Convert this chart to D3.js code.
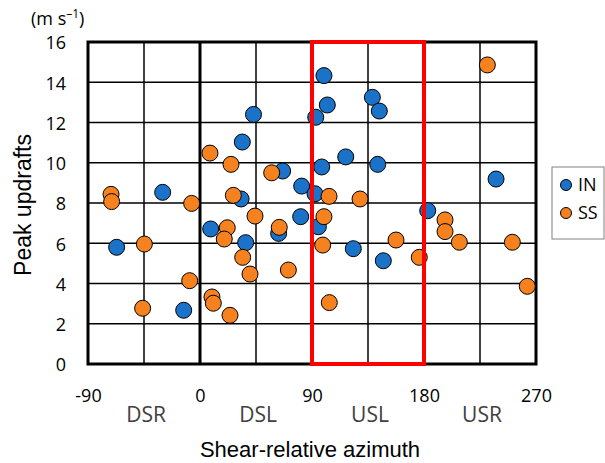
<!DOCTYPE html>
<html>
<head>
<meta charset="utf-8">
<script src="https://cdn.jsdelivr.net/npm/d3@7"></script>
<style>
  body { margin: 0; background: #fff; }
  svg { display: block; }
  .tick text { font-family: "Open Sans", sans-serif; font-size: 18px; fill: #000; }
</style>
</head>
<body>
<svg width="605" height="463"></svg>
<script>
    // shear-relative azimuth (deg) and peak updraft (m/s)
    var inAzimuth = [43, 34, 66.4, 81.7, -30, 33, 99.6, 102.3, 93, 138.5, 144.1, 117.1, 97.8, 142.8,
        92.4, 237.9, 183, 8.6, 36.7, 63.2, 80.9, 95.1, -67, -13.1, 123.2, 147.3];
    var inUpdraft = [12.4, 11.03, 9.59, 8.84, 8.53, 8.2, 14.33, 12.87, 12.26, 13.25, 12.57, 10.29, 9.79, 9.92,
        8.46, 9.19, 7.62, 6.71, 6.03, 6.49, 7.32, 6.82, 5.8, 2.67, 5.73, 5.13];

    var ssAzimuth = [8, 24.9, 57.6, -71.5, -71, -6.7, 26.8, 103.7, 128.6, 230.9, 44.2, 21.9, 19.5, 34.3,
        40.2, 63.7, 71, -44.7, -8.3, -46.1, 9.6, 10.7, 24.1, 99.6, 98.6, 157.5, 176.2, 196.9, 196.9,
        208.4, 251, 263, 103.9];
    var ssUpdraft = [10.48, 9.92, 9.5, 8.43, 8.07, 7.98, 8.38, 8.33, 8.2, 14.86, 7.35, 6.77, 6.21, 5.3,
        4.47, 6.79, 4.67, 5.96, 4.14, 2.77, 3.33, 3.02, 2.42, 7.32, 5.91, 6.16, 5.3, 7.16, 6.58,
        6.05, 6.05, 3.86, 3.05];

    var xTicks = [-90, 0, 90, 180, 270];
    var xGrid = [-45, 45, 135, 225];
    var yTicks = [0, 2, 4, 6, 8, 10, 12, 14, 16];
    var sectors = ["DSR", "DSL", "USL", "USR"];
    var sectorPos = [-45, 45, 135, 225];
    var box = [90, 180];

    var series = [
        { name: "IN", color: "#1b72c9", xs: inAzimuth, ys: inUpdraft },
        { name: "SS", color: "#f5821f", xs: ssAzimuth, ys: ssUpdraft }
    ];

    var svg = d3.select("svg"),
        plotL = 88, plotR = 536, plotT = 42, plotB = 364;

    var x = d3.scaleLinear().domain([-90, 270]).range([plotL, plotR]);
    var y = d3.scaleLinear().domain([0, 16]).range([plotB, plotT]);

    // grid
    var grid = svg.append("g").attr("stroke", "#000").attr("stroke-width", 1.5);
    grid.selectAll("line.h")
        .data(yTicks.slice(1, -1)).enter()
        .append("line")
            .attr("x1", plotL).attr("x2", plotR)
            .attr("y1", (d) => y(d)).attr("y2", (d) => y(d));
    grid.selectAll("line.v")
        .data(xGrid.concat([90, 180])).enter()
        .append("line")
            .attr("y1", plotT).attr("y2", plotB)
            .attr("x1", (d) => x(d)).attr("x2", (d) => x(d));

    // zero line
    svg.append("line")
        .attr("x1", x(0)).attr("x2", x(0))
        .attr("y1", plotT).attr("y2", plotB)
        .attr("stroke", "#000").attr("stroke-width", 3);

    // frame
    svg.append("rect")
        .attr("x", plotL).attr("y", plotT)
        .attr("width", plotR - plotL).attr("height", plotB - plotT)
        .attr("fill", "none").attr("stroke", "#000").attr("stroke-width", 3);

    // axes (labels only)
    var yAxis = svg.append("g")
        .attr("transform", "translate(" + (plotL - 22) + ",1)")
        .call(d3.axisLeft(y).tickValues(yTicks).tickSize(0).tickPadding(0));
    yAxis.select(".domain").remove();

    var xAxis = svg.append("g")
        .attr("transform", "translate(0," + (plotB + 25) + ")")
        .call(d3.axisBottom(x).tickValues(xTicks).tickFormat((d) => String(d)).tickSize(0).tickPadding(0));
    xAxis.select(".domain").remove();

    svg.append("g").selectAll("text")
        .data(sectors).enter()
        .append("text")
            .attr("x", (d, i) => x(sectorPos[i]) + 2)
            .attr("y", 422)
            .attr("text-anchor", "middle")
            .attr("font-family", "Open Sans, sans-serif")
            .attr("font-size", 21)
            .attr("fill", "#404040")
            .text((d) => d);

    // points
    series.forEach(function (s) {
        svg.append("g").selectAll("circle")
            .data(s.xs).enter()
            .append("circle")
                .attr("cx", (d) => x(d))
                .attr("cy", (d, i) => y(s.ys[i]))
                .attr("r", 8)
                .attr("fill", s.color)
                .attr("stroke", "#000")
                .attr("stroke-width", 1);
    });

    // highlighted upshear-left sector
    svg.append("rect")
        .attr("x", x(box[0])).attr("y", plotT)
        .attr("width", x(box[1]) - x(box[0])).attr("height", plotB - plotT)
        .attr("fill", "none").attr("stroke", "#ff0000").attr("stroke-width", 4);

    // titles
    svg.append("text")
        .attr("x", 310).attr("y", 457)
        .attr("text-anchor", "middle")
        .attr("font-family", "Liberation Sans, Arial, sans-serif")
        .attr("font-size", 22)
        .text("Shear-relative azimuth");

    svg.append("text")
        .attr("transform", "translate(31,205) rotate(-90)")
        .attr("text-anchor", "middle")
        .attr("font-family", "Liberation Sans, Arial, sans-serif")
        .attr("font-size", 23)
        .text("Peak updrafts");

    var unit = svg.append("text")
        .attr("x", 31).attr("y", 25)
        .attr("font-family", "Open Sans, sans-serif")
        .attr("font-size", 18);
    unit.append("tspan").text("(m s");
    unit.append("tspan").attr("dy", -7).attr("font-size", 12).text("\u20131");
    unit.append("tspan").attr("dy", 7).text(")");

    // legend
    var legend = svg.append("g");
    legend.append("rect")
        .attr("x", 552).attr("y", 167).attr("width", 52).attr("height", 72)
        .attr("fill", "#fff").attr("stroke", "#808080").attr("stroke-width", 1);
    var item = legend.selectAll("g.item")
        .data(series).enter()
        .append("g")
            .attr("transform", (d, i) => "translate(566," + (185 + i * 28) + ")");
    item.append("circle")
        .attr("r", 5.5)
        .attr("fill", (d) => d.color)
        .attr("stroke", "#000").attr("stroke-width", 1);
    item.append("text")
        .attr("x", 12).attr("dy", "0.36em")
        .attr("font-family", "Open Sans, sans-serif")
        .attr("font-size", 18)
        .text((d) => d.name);
</script>
</body>
</html>
